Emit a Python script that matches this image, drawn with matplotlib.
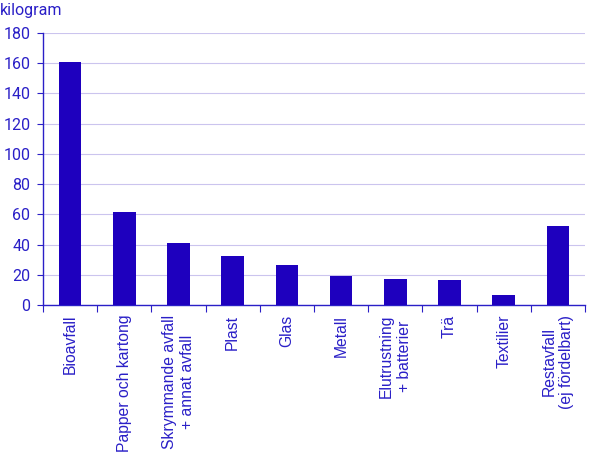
import matplotlib
matplotlib.use("Agg")
import matplotlib.pyplot as plt
import numpy as np

# waste per person, kilogram
categories = ["Bioavfall", "Papper och kartong", "Skrymmande avfall\n+ annat avfall",
              "Plast", "Glas", "Metall", "Elutrustning\n+ batterier", "Trä",
              "Textilier", "Restavfall\n(ej fördelbart)"]
values = [161, 61.5, 41, 32.4, 26.5, 19.2, 17.2, 16.5, 6.6, 52.3]
yticks = [0, 20, 40, 60, 80, 100, 120, 140, 160, 180]

BAR_C = "#1e00be"
TXT_C = "#2a1fc7"
GRID_C = "#cbc4ee"

plt.rcParams["font.family"] = ["Roboto", "DejaVu Sans"]

fig = plt.figure(figsize=(6.09, 4.68), dpi=100)
ax = fig.add_axes([0.0706, 0.348, 0.89, 0.5815])

x = np.arange(len(categories))
ax.bar(x, values, width=0.42, color=BAR_C, zorder=3)

ax.set_xlim(-0.5, len(categories) - 0.5)
ax.set_ylim(0, 180)
ax.set_yticks(yticks)
ax.yaxis.grid(True, color=GRID_C, lw=0.8, zorder=0)
ax.tick_params(axis="y", colors=TXT_C, labelsize=11.5, length=4, width=0.8, pad=5)

ax.set_xticks(x)
ax.set_xticklabels(categories, rotation=90, ha="center", va="top",
                   multialignment="center", fontsize=11.3, color=TXT_C,
                   family=["Liberation Sans", "DejaVu Sans"])
ax.tick_params(axis="x", which="major", length=0, pad=7)
ax.set_xticks(np.arange(-0.5, len(categories)), minor=True)
ax.tick_params(axis="x", which="minor", length=5, width=0.8, color=TXT_C)

for s in ["top", "right"]:
    ax.spines[s].set_visible(False)
for s in ["left", "bottom"]:
    ax.spines[s].set_color(TXT_C)
    ax.spines[s].set_linewidth(1.0)

fig.text(0.0, 0.978, "kilogram", ha="left", va="center", fontsize=11.5, color=TXT_C)

fig.savefig("out.png", dpi=100)
